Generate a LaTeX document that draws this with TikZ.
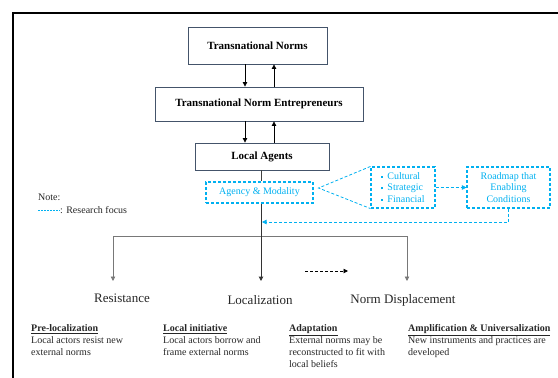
\documentclass[tikz,border=0pt]{standalone}
\usepackage{fontspec}
\setmainfont{Liberation Serif}
\usetikzlibrary{arrows.meta,calc}
\definecolor{boxc}{RGB}{68,84,106}
\definecolor{focus}{RGB}{0,176,240}
\definecolor{txt}{RGB}{38,38,38}
\definecolor{branch}{RGB}{120,120,120}
\tikzset{
  mainbox/.style={draw=boxc,line width=0.9pt,fill=white,inner sep=0pt,font=\fontsize{11}{13}\selectfont\bfseries},
  focusbox/.style={draw=focus,line width=1.1pt,dash pattern=on 3pt off 2pt,inner sep=0pt,text=focus,font=\fontsize{10}{11.5}\selectfont,align=center},
  focusline/.style={draw=focus,line width=0.8pt,dash pattern=on 3pt off 2pt},
  arr/.style={-{Triangle[length=4.5pt,width=4.5pt]},line width=0.8pt},
  outcome/.style={font=\fontsize{13}{15}\selectfont,text=txt,inner sep=0pt},
  desc/.style={font=\fontsize{10}{12}\selectfont,text=txt,align=left,anchor=north west,inner sep=0pt},
}
\newcommand{\bsq}{\raisebox{1.5pt}{\rule{2.2pt}{2.2pt}}\hspace{4pt}}
\begin{document}
\begin{tikzpicture}[x=1pt,y=-1pt]
\useasboundingbox (0,0) rectangle (558,378);
% frame
\draw[line width=1.8pt,line cap=rect] (13,378) -- (13,13) -- (558,13);

% main boxes
\node[mainbox,minimum width=139pt,minimum height=37pt] (tn) at (257.5,45.5) {Transnational Norms};
\node[mainbox,minimum width=208pt,minimum height=34pt] (tne) at (259,104) {Transnational Norm Entrepreneurs};
\node[mainbox,minimum width=134pt,minimum height=27pt] (la) at (262,156.5) {Local Agents};

\draw[arr] (tn.south -| 245,0) -- (tne.north -| 245,0);
\draw[arr] (tne.north -| 274,0) -- (tn.south -| 274,0);
\draw[arr] (tne.south -| 245,0) -- (la.north -| 245,0);
\draw[arr] (la.north -| 274,0) -- (tne.south -| 274,0);

% focus boxes
\node[focusbox,minimum width=107pt,minimum height=21pt] (am) at (259.5,192.5) {Agency \& Modality};
\node[focusbox,minimum width=64pt,minimum height=41pt,align=left] (cb) at (403,187.5) {\bsq Cultural\\\bsq Strategic\\\bsq Financial};
\node[focusbox,minimum width=83pt,minimum height=41pt] (rm) at (508.5,187.5) {Roadmap that\\Enabling\\Conditions};

\coordinate (fan) at ($(am.east)+(5,-4.5)$);
\draw[focusline] (cb.north west) -- (fan) -- (cb.south west);
\draw[focusline,-{Triangle[length=4.5pt,width=4.5pt]}] (cb.east) -- (rm.west);

% connectors down
\draw[line width=0.9pt,draw=black!75] (la.south -| 261,0) -- (am.north -| 261,0);
\coordinate (br) at (261,236);
\coordinate (bl) at (113,236);
\coordinate (brr) at (407,236);
\draw[line width=0.8pt,draw=branch] (bl) -- (brr);

\node[outcome] (res) at (122,298) {Resistance};
\node[outcome] (loc) at (260,300) {Localization};
\node[outcome] (nd) at (403,300) {Norm Displacement};

\draw[arr,draw=branch] (bl) -- (113,281) coordinate (resT);
\draw[arr,draw=black!80,line width=1pt] (am.south -| br) -- (261,281) coordinate (locT);
\draw[arr,draw=branch] (brr) -- (407,281) coordinate (ndT);

% feedback from roadmap
\coordinate (fb) at (rm.south |- 0,222);
\draw[focusline,-{Triangle[length=4.5pt,width=4.5pt]}] (rm.south) -- (fb) -- (262,222);

% dashed black arrow
\coordinate (da1) at (305,271);
\coordinate (da2) at (348,271);
\draw[line width=0.9pt,dash pattern=on 3pt off 2pt,-{Triangle[length=4.5pt,width=4.5pt]}] (da1) -- (da2);

% note
\node[font=\fontsize{10}{12}\selectfont,text=txt,anchor=base west,inner sep=0pt] (note) at (38,200) {Note:};
\coordinate (nl1) at (38,210);
\coordinate (nl2) at (60,210);
\draw[focusline,line width=0.7pt,dash pattern=on 2pt off 1pt] (nl1) -- (nl2);
\node[font=\fontsize{10}{12}\selectfont,text=txt,anchor=base west,inner sep=0pt] (rf) at (60,213) {: Research focus};

% descriptions
\node[desc] (d1) at (31,324.5) {\underline{\textbf{Pre-localization}}\\Local actors resist new\\external norms};
\node[desc] (d2) at (163,324.5) {\underline{\textbf{Local initiative}}\\Local actors borrow and\\frame external norms};
\node[desc] (d3) at (289,324.5) {\underline{\textbf{Adaptation}}\\External norms may be\\reconstructed to fit with\\local beliefs};
\node[desc] (d4) at (408,324.5) {\underline{\textbf{Amplification \& Universalization}}\\New instruments and practices are\\developed};
\end{tikzpicture}
\end{document}
